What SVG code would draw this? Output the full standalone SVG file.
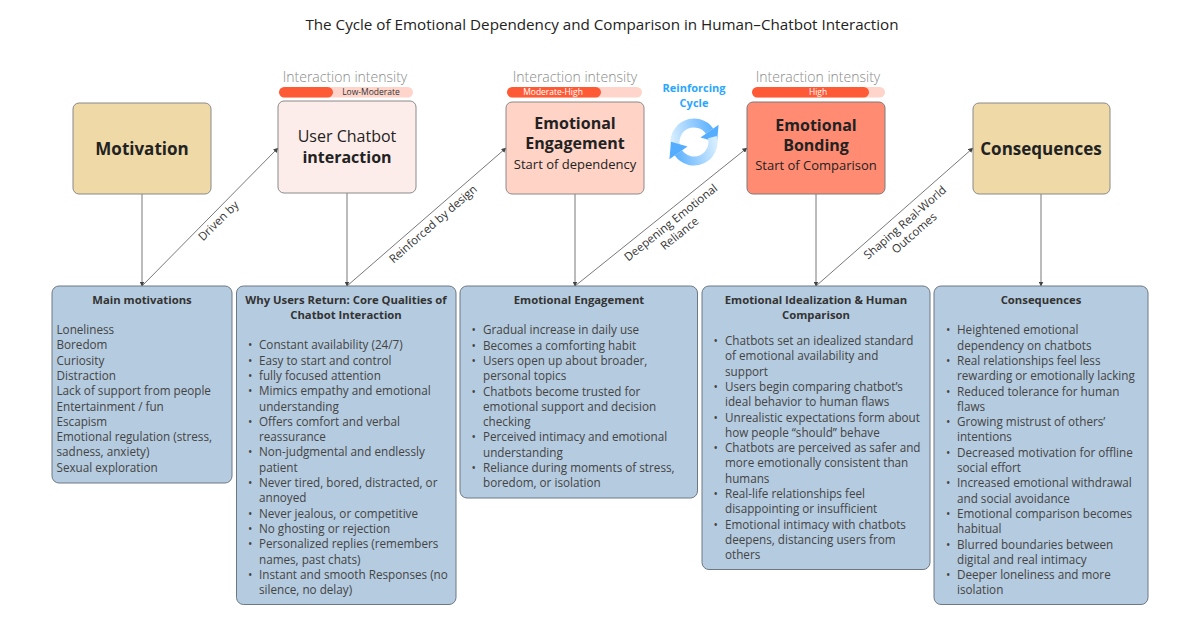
<svg xmlns="http://www.w3.org/2000/svg" width="1200" height="633" viewBox="0 0 1200 633">
<defs>
<style>
text{font-family:"Open Sans","Noto Sans","Liberation Sans",sans-serif;}
.title{font-size:15.2px;fill:#222;}
.nb{font-weight:700;fill:#222;}
.nr{fill:#222;}
.tan{fill:#EED9A7;stroke:#8a8a8a;stroke-width:1;}
.pink1{fill:#FDEDEA;stroke:#8a8a8a;stroke-width:1;}
.pink2{fill:#FFD3C6;stroke:#8a8a8a;stroke-width:1;}
.pink3{fill:#FF8B72;stroke:#7a7a7a;stroke-width:1;}
.blue{fill:#B5CBDF;stroke:#6d7884;stroke-width:1;}
.int{font-size:14px;fill:#8a8a8a;font-weight:300;}
.barbg{fill:#FFD5CB;}
.bar{fill:#FF5A36;}
.bt{font-size:8.5px;}
.bh{font-size:11.3px;font-weight:700;fill:#333;}
.li{font-size:11.7px;fill:#444;}
.lbl{font-size:11.5px;fill:#333;}
.con{stroke:#555;stroke-width:0.8;fill:none;}
.cyc{font-size:11px;font-weight:700;fill:#2AA6FF;}
</style>
<marker id="ah" viewBox="0 0 10 10" refX="9" refY="5" markerWidth="5" markerHeight="5" orient="auto" markerUnits="userSpaceOnUse">
<path d="M0,0 L10,5 L0,10 z" fill="#444"/>
</marker>
<linearGradient id="gTop" gradientUnits="userSpaceOnUse" x1="672" y1="140" x2="716" y2="130">
<stop offset="0" stop-color="#D6EDFF"/><stop offset="1" stop-color="#55ADFF"/>
</linearGradient>
<linearGradient id="gBot" gradientUnits="userSpaceOnUse" x1="716" y1="144" x2="672" y2="154">
<stop offset="0" stop-color="#D6EDFF"/><stop offset="1" stop-color="#55ADFF"/>
</linearGradient>
</defs>
<rect width="1200" height="633" fill="#ffffff"/>

<text class="title" x="602" y="30" text-anchor="middle">The Cycle of Emotional Dependency and Comparison in Human–Chatbot Interaction</text>

<!-- connectors -->
<g id="connectors">
<line class="con" x1="142" y1="194" x2="142" y2="286" marker-end="url(#ah)"/>
<line class="con" x1="347" y1="193" x2="347" y2="286" marker-end="url(#ah)"/>
<line class="con" x1="575" y1="194" x2="575" y2="286" marker-end="url(#ah)"/>
<line class="con" x1="816" y1="194" x2="816" y2="286" marker-end="url(#ah)"/>
<line class="con" x1="1041" y1="194" x2="1041" y2="286" marker-end="url(#ah)"/>
<line class="con" x1="142" y1="286" x2="278" y2="148" marker-end="url(#ah)"/>
<line class="con" x1="347" y1="286" x2="506" y2="148" marker-end="url(#ah)"/>
<line class="con" x1="575" y1="286" x2="747" y2="148" marker-end="url(#ah)"/>
<line class="con" x1="816" y1="286" x2="973" y2="148" marker-end="url(#ah)"/>
<text class="lbl" transform="translate(218.3,220.8) rotate(-44.5)" text-anchor="middle" y="4">Driven by</text>
<text class="lbl" transform="translate(433,224) rotate(-41)" text-anchor="middle" y="4">Reinforced by design</text>
<text class="lbl" transform="translate(670.8,222.5) rotate(-38.7)" text-anchor="middle"><tspan x="0" y="4">Deepening Emotional</tspan><tspan x="0" y="18">Reliance</tspan></text>
<text class="lbl" transform="translate(905,222.5) rotate(-41)" text-anchor="middle"><tspan x="0" y="4">Shaping Real-World</tspan><tspan x="0" y="18">Outcomes</tspan></text>
</g>

<!-- top nodes -->
<g id="node-motivation">
<rect class="tan" x="73" y="103" width="138" height="91" rx="6"/>
<text class="nb" x="142" y="155" text-anchor="middle" font-size="17">Motivation</text>
</g>

<g id="node-interaction">
<text class="int" x="345" y="82" text-anchor="middle">Interaction intensity</text>
<rect class="barbg" x="279" y="87" width="134" height="10.5" rx="5.25"/>
<rect class="bar" x="279" y="87" width="54" height="10.5" rx="5.25"/>
<text class="bt" x="371" y="95.3" text-anchor="middle" fill="#333">Low-Moderate</text>
<rect class="pink1" x="278" y="101" width="138" height="92" rx="6"/>
<text class="nr" x="347" y="142" text-anchor="middle" font-size="16">User Chatbot</text>
<text class="nb" x="347" y="163" text-anchor="middle" font-size="16">interaction</text>
</g>

<g id="node-engagement">
<text class="int" x="575" y="82" text-anchor="middle">Interaction intensity</text>
<rect class="barbg" x="507" y="87" width="135" height="10.5" rx="5.25"/>
<rect class="bar" x="507" y="87" width="94" height="10.5" rx="5.25"/>
<text class="bt" x="553" y="95.3" text-anchor="middle" fill="#ffffff">Moderate-High</text>
<rect class="pink2" x="506" y="102" width="138" height="92" rx="6"/>
<text class="nb" x="575" y="128.5" text-anchor="middle" font-size="16">Emotional</text>
<text class="nb" x="575" y="148.5" text-anchor="middle" font-size="16">Engagement</text>
<text class="nr" x="575" y="168.5" text-anchor="middle" font-size="13">Start of dependency</text>
</g>

<g id="reinforcing-cycle">
<text class="cyc" x="694" y="92" text-anchor="middle">Reinforcing</text>
<text class="cyc" x="694" y="107" text-anchor="middle">Cycle</text>
<path d="M675.65,146.92 A19,19 0 0 1 709.56,131.10" stroke="url(#gTop)" stroke-width="9" fill="none"/>
<path d="M718.6,124.8 L700.5,137.4 L717,142.2 z" fill="#55ADFF"/>
<path d="M712.35,137.08 A19,19 0 0 1 678.44,152.90" stroke="url(#gBot)" stroke-width="9" fill="none"/>
<path d="M669.4,159.2 L687.5,146.6 L671,141.8 z" fill="#55ADFF"/>
</g>

<g id="node-bonding">
<text class="int" x="818" y="82" text-anchor="middle">Interaction intensity</text>
<rect class="barbg" x="752" y="87" width="133" height="10.5" rx="5.25"/>
<rect class="bar" x="752" y="87" width="117" height="10.5" rx="5.25"/>
<text class="bt" x="818" y="95.3" text-anchor="middle" fill="#ffffff">High</text>
<rect class="pink3" x="747" y="102" width="138" height="92" rx="6"/>
<text class="nb" x="816" y="130.5" text-anchor="middle" font-size="16">Emotional</text>
<text class="nb" x="816" y="150.5" text-anchor="middle" font-size="16">Bonding</text>
<text class="nr" x="816" y="169.5" text-anchor="middle" font-size="13">Start of Comparison</text>
</g>

<g id="node-consequences">
<rect class="tan" x="973" y="103" width="137" height="91" rx="6"/>
<text class="nb" x="1041" y="155" text-anchor="middle" font-size="17">Consequences</text>
</g>

<!-- bottom boxes -->
<g id="box-main-motivations">
<rect class="blue" x="52" y="286" width="180" height="197" rx="7"/>
<text class="bh" x="142" y="304" text-anchor="middle">Main motivations</text>
<text class="li" x="56.5" y="334">
<tspan x="56.5" dy="0">Loneliness</tspan>
<tspan x="56.5" dy="15.3">Boredom</tspan>
<tspan x="56.5" dy="15.3">Curiosity</tspan>
<tspan x="56.5" dy="15.3">Distraction</tspan>
<tspan x="56.5" dy="15.3">Lack of support from people</tspan>
<tspan x="56.5" dy="15.3">Entertainment / fun</tspan>
<tspan x="56.5" dy="15.3">Escapism</tspan>
<tspan x="56.5" dy="15.3">Emotional regulation (stress,</tspan>
<tspan x="56.5" dy="15.3">sadness, anxiety)</tspan>
<tspan x="56.5" dy="15.3">Sexual exploration</tspan>
</text>
</g>

<g id="box-why-return">
<rect class="blue" x="236.5" y="286" width="219.5" height="318.5" rx="7"/>
<text class="bh" x="346" y="304" text-anchor="middle">Why Users Return: Core Qualities of</text>
<text class="bh" x="346" y="319" text-anchor="middle">Chatbot Interaction</text>
<text class="li" x="248" y="349.3">
<tspan x="248" dy="0">•</tspan>
<tspan x="248" dy="15.3">•</tspan>
<tspan x="248" dy="15.3">•</tspan>
<tspan x="248" dy="15.3">•</tspan>
<tspan x="248" dy="30.6">•</tspan>
<tspan x="248" dy="30.6">•</tspan>
<tspan x="248" dy="30.6">•</tspan>
<tspan x="248" dy="30.6">•</tspan>
<tspan x="248" dy="15.3">•</tspan>
<tspan x="248" dy="15.3">•</tspan>
<tspan x="248" dy="30.6">•</tspan>
</text>
<text class="li" x="259" y="349.3">
<tspan x="259" dy="0">Constant availability (24/7)</tspan>
<tspan x="259" dy="15.3">Easy to start and control</tspan>
<tspan x="259" dy="15.3">fully focused attention</tspan>
<tspan x="259" dy="15.3">Mimics empathy and emotional</tspan>
<tspan x="259" dy="15.3">understanding</tspan>
<tspan x="259" dy="15.3">Offers comfort and verbal</tspan>
<tspan x="259" dy="15.3">reassurance</tspan>
<tspan x="259" dy="15.3">Non-judgmental and endlessly</tspan>
<tspan x="259" dy="15.3">patient</tspan>
<tspan x="259" dy="15.3">Never tired, bored, distracted, or</tspan>
<tspan x="259" dy="15.3">annoyed</tspan>
<tspan x="259" dy="15.3">Never jealous, or competitive</tspan>
<tspan x="259" dy="15.3">No ghosting or rejection</tspan>
<tspan x="259" dy="15.3">Personalized replies (remembers</tspan>
<tspan x="259" dy="15.3">names, past chats)</tspan>
<tspan x="259" dy="15.3">Instant and smooth Responses (no</tspan>
<tspan x="259" dy="15.3">silence, no delay)</tspan>
</text>
</g>

<g id="box-emotional-engagement">
<rect class="blue" x="460" y="286" width="237.5" height="212" rx="7"/>
<text class="bh" x="579" y="304" text-anchor="middle">Emotional Engagement</text>
<text class="li" x="471.5" y="334.3">
<tspan x="471.5" dy="0">•</tspan>
<tspan x="471.5" dy="15.3">•</tspan>
<tspan x="471.5" dy="15.3">•</tspan>
<tspan x="471.5" dy="30.6">•</tspan>
<tspan x="471.5" dy="45.9">•</tspan>
<tspan x="471.5" dy="30.6">•</tspan>
</text>
<text class="li" x="483" y="334.3">
<tspan x="483" dy="0">Gradual increase in daily use</tspan>
<tspan x="483" dy="15.3">Becomes a comforting habit</tspan>
<tspan x="483" dy="15.3">Users open up about broader,</tspan>
<tspan x="483" dy="15.3">personal topics</tspan>
<tspan x="483" dy="15.3">Chatbots become trusted for</tspan>
<tspan x="483" dy="15.3">emotional support and decision</tspan>
<tspan x="483" dy="15.3">checking</tspan>
<tspan x="483" dy="15.3">Perceived intimacy and emotional</tspan>
<tspan x="483" dy="15.3">understanding</tspan>
<tspan x="483" dy="15.3">Reliance during moments of stress,</tspan>
<tspan x="483" dy="15.3">boredom, or isolation</tspan>
</text>
</g>

<g id="box-idealization">
<rect class="blue" x="702" y="286" width="228" height="283.5" rx="7"/>
<text class="bh" x="816" y="304" text-anchor="middle">Emotional Idealization &amp; Human</text>
<text class="bh" x="816" y="319" text-anchor="middle">Comparison</text>
<text class="li" x="713.5" y="345">
<tspan x="713.5" dy="0">•</tspan>
<tspan x="713.5" dy="45.9">•</tspan>
<tspan x="713.5" dy="30.6">•</tspan>
<tspan x="713.5" dy="30.6">•</tspan>
<tspan x="713.5" dy="45.9">•</tspan>
<tspan x="713.5" dy="30.6">•</tspan>
</text>
<text class="li" x="725" y="345">
<tspan x="725" dy="0">Chatbots set an idealized standard</tspan>
<tspan x="725" dy="15.3">of emotional availability and</tspan>
<tspan x="725" dy="15.3">support</tspan>
<tspan x="725" dy="15.3">Users begin comparing chatbot’s</tspan>
<tspan x="725" dy="15.3">ideal behavior to human flaws</tspan>
<tspan x="725" dy="15.3">Unrealistic expectations form about</tspan>
<tspan x="725" dy="15.3">how people “should” behave</tspan>
<tspan x="725" dy="15.3">Chatbots are perceived as safer and</tspan>
<tspan x="725" dy="15.3">more emotionally consistent than</tspan>
<tspan x="725" dy="15.3">humans</tspan>
<tspan x="725" dy="15.3">Real-life relationships feel</tspan>
<tspan x="725" dy="15.3">disappointing or insufficient</tspan>
<tspan x="725" dy="15.3">Emotional intimacy with chatbots</tspan>
<tspan x="725" dy="15.3">deepens, distancing users from</tspan>
<tspan x="725" dy="15.3">others</tspan>
</text>
</g>

<g id="box-consequences">
<rect class="blue" x="934" y="286" width="214" height="318.5" rx="7"/>
<text class="bh" x="1041" y="304" text-anchor="middle">Consequences</text>
<text class="li" x="946" y="334.3">
<tspan x="946" dy="0">•</tspan>
<tspan x="946" dy="30.6">•</tspan>
<tspan x="946" dy="30.6">•</tspan>
<tspan x="946" dy="30.6">•</tspan>
<tspan x="946" dy="30.6">•</tspan>
<tspan x="946" dy="30.6">•</tspan>
<tspan x="946" dy="30.6">•</tspan>
<tspan x="946" dy="30.6">•</tspan>
<tspan x="946" dy="30.6">•</tspan>
</text>
<text class="li" x="957" y="334.3">
<tspan x="957" dy="0">Heightened emotional</tspan>
<tspan x="957" dy="15.3">dependency on chatbots</tspan>
<tspan x="957" dy="15.3">Real relationships feel less</tspan>
<tspan x="957" dy="15.3">rewarding or emotionally lacking</tspan>
<tspan x="957" dy="15.3">Reduced tolerance for human</tspan>
<tspan x="957" dy="15.3">flaws</tspan>
<tspan x="957" dy="15.3">Growing mistrust of others’</tspan>
<tspan x="957" dy="15.3">intentions</tspan>
<tspan x="957" dy="15.3">Decreased motivation for offline</tspan>
<tspan x="957" dy="15.3">social effort</tspan>
<tspan x="957" dy="15.3">Increased emotional withdrawal</tspan>
<tspan x="957" dy="15.3">and social avoidance</tspan>
<tspan x="957" dy="15.3">Emotional comparison becomes</tspan>
<tspan x="957" dy="15.3">habitual</tspan>
<tspan x="957" dy="15.3">Blurred boundaries between</tspan>
<tspan x="957" dy="15.3">digital and real intimacy</tspan>
<tspan x="957" dy="15.3">Deeper loneliness and more</tspan>
<tspan x="957" dy="15.3">isolation</tspan>
</text>
</g>
</svg>
